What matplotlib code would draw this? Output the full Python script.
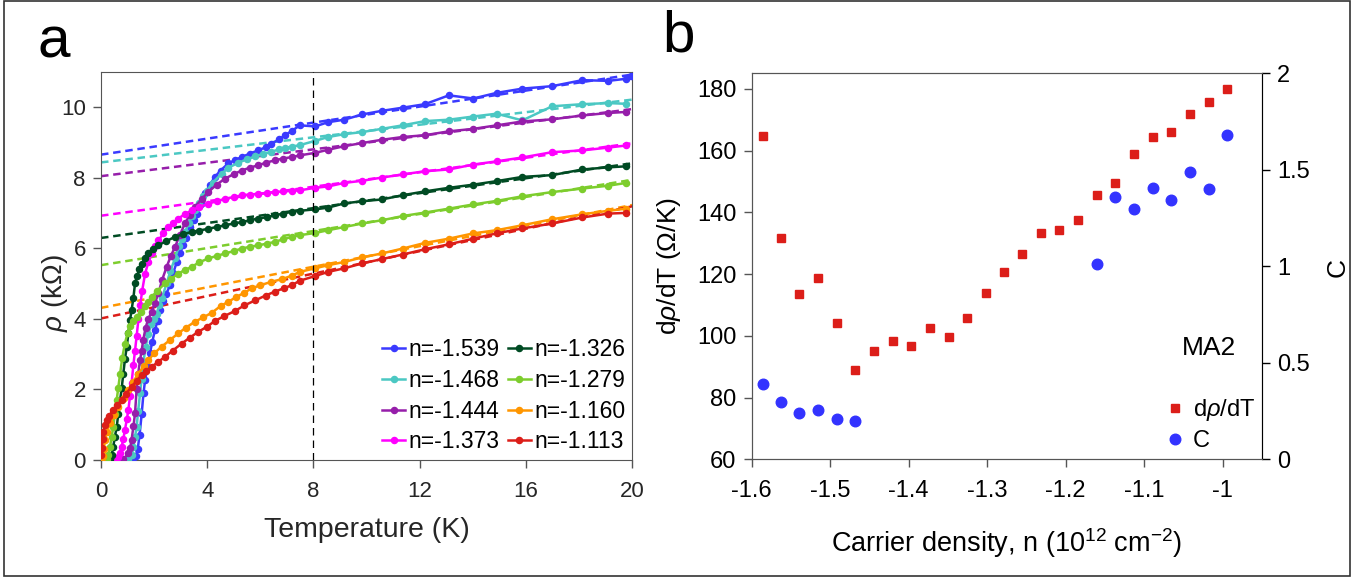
import matplotlib
matplotlib.use("Agg")
import matplotlib.pyplot as plt
from matplotlib.patches import Rectangle
import numpy as np

plt.rcParams['font.family'] = ['Liberation Sans', 'DejaVu Sans']
plt.rcParams['mathtext.fontset'] = 'custom'
plt.rcParams['mathtext.it'] = 'Liberation Sans:italic'
plt.rcParams['mathtext.rm'] = 'Liberation Sans'
plt.rcParams['axes.unicode_minus'] = False

# ---------------- panel a data: rho (kOhm) vs T (K) ----------------
labels_a = ['n=-1.539', 'n=-1.468', 'n=-1.444', 'n=-1.373',
            'n=-1.326', 'n=-1.279', 'n=-1.160', 'n=-1.113']
n_a = [-1.539, -1.468, -1.444, -1.373, -1.326, -1.279, -1.160, -1.113]
colors_a = ['#3A3AFF', '#4BC8C3', '#961EAA', '#FF00FF',
            '#004B23', '#7DCD2D', '#FF9600', '#DC1E19']
# intercepts of the linear fits (kOhm)
rho0_fit = [8.65, 8.43, 8.04, 6.92, 6.29, 5.52, 4.31, 4.01]

# common high-temperature points
T_hi = [7.49, 8.06, 8.56, 9.16, 9.84, 10.57, 11.36, 12.2, 13.1, 14.02,
        14.9, 15.87, 16.99, 18.13, 19.1, 19.79]

T_1 = [0.7, 0.9, 1.05, 1.2, 1.3, 1.38, 1.45, 1.53, 1.6, 1.66, 1.75, 1.84, 1.93,
       2.03, 2.13, 2.22, 2.35, 2.45, 2.6, 2.72, 2.85, 2.97, 3.1, 3.2, 3.35, 3.5,
       3.6, 3.75, 3.92, 4.1, 4.29, 4.5, 4.79, 5.05, 5.3, 5.6, 5.92, 6.2, 6.42,
       6.7, 6.93, 7.2]
rho_1 = [0.0, 0.01, 0.02, 0.05, 0.1, 0.3, 0.7, 1.3, 1.9, 2.26, 2.65, 3.02, 3.35,
         3.68, 3.95, 4.24, 4.5, 4.7, 4.95, 5.3, 5.6, 5.85, 6.1, 6.3, 6.6, 6.8,
         6.98, 7.25, 7.55, 7.8, 8.02, 8.2, 8.4, 8.5, 8.58, 8.68, 8.77, 8.86, 8.96,
         9.08, 9.2, 9.33]
rho_1_hi = [9.48, 9.45, 9.57, 9.64, 9.79, 9.89, 9.98, 10.08, 10.33, 10.24,
            10.40, 10.52, 10.59, 10.76, 10.74, 10.80]

T_2 = [0.8, 1.03, 1.15, 1.22, 1.28, 1.34, 1.4, 1.47, 1.53, 1.59, 1.68, 1.78,
       1.9, 2.0, 2.1, 2.2, 2.3, 2.47, 2.61, 2.79, 2.93, 3.05, 3.16, 3.3, 3.42,
       3.54, 3.7, 3.85, 3.98, 4.2, 4.54, 4.8, 5.17, 5.5, 5.8, 6.1, 6.42, 6.7,
       6.93, 7.2]
rho_2 = [0.0, 0.02, 0.15, 0.38, 0.65, 0.94, 1.4, 1.89, 2.3, 2.74, 3.2, 3.58,
         3.85, 4.0, 4.15, 4.4, 4.6, 5.0, 5.35, 5.72, 6.05, 6.25, 6.45, 6.7, 6.9,
         7.07, 7.28, 7.48, 7.62, 7.85, 8.11, 8.28, 8.42, 8.52, 8.6, 8.67, 8.73,
         8.8, 8.84, 8.88]
rho_2_hi = [8.92, 9.04, 9.15, 9.23, 9.29, 9.38, 9.48, 9.6, 9.64, 9.73, 9.81,
            9.62, 10.02, 10.08, 10.11, 10.09]

T_3 = [0.6, 0.84, 1.03, 1.1, 1.15, 1.22, 1.28, 1.34, 1.4, 1.47, 1.53, 1.59,
       1.68, 1.78, 1.91, 2.03, 2.16, 2.3, 2.47, 2.63, 2.79, 2.97, 3.16, 3.35,
       3.54, 3.8, 4.04, 4.35, 4.67, 5.0, 5.3, 5.6, 5.92, 6.2, 6.55, 6.85, 7.18]
rho_3 = [0.0, 0.02, 0.19, 0.35, 0.57, 0.95, 1.32, 2.0, 2.45, 2.83, 3.1, 3.4,
         3.75, 4.0, 4.2, 4.45, 4.72, 5.1, 5.47, 5.78, 6.04, 6.38, 6.7, 6.95,
         7.17, 7.4, 7.59, 7.8, 7.97, 8.1, 8.2, 8.28, 8.35, 8.42, 8.49, 8.54, 8.58]
rho_3_hi = [8.63, 8.7, 8.79, 8.89, 8.98, 9.07, 9.15, 9.2, 9.31, 9.38, 9.48,
            9.59, 9.65, 9.76, 9.83, 9.86]

T_4 = [0.4, 0.55, 0.65, 0.72, 0.78, 0.84, 0.9, 0.97, 1.03, 1.09, 1.15, 1.22,
       1.28, 1.34, 1.41, 1.48, 1.55, 1.66, 1.78, 1.91, 2.03, 2.16, 2.35, 2.54,
       2.72, 2.91, 3.15, 3.41, 3.7, 4.04, 4.35, 4.67, 5.0, 5.3, 5.6, 5.92, 6.25,
       6.55, 6.85, 7.18]
rho_4 = [0.0, 0.02, 0.09, 0.2, 0.38, 0.6, 0.85, 1.15, 1.42, 1.8, 2.17, 2.7,
         3.1, 3.5, 4.0, 4.4, 4.8, 5.28, 5.6, 5.85, 6.05, 6.22, 6.42, 6.6, 6.72,
         6.84, 6.96, 7.07, 7.17, 7.26, 7.33, 7.4, 7.45, 7.5, 7.52, 7.54, 7.57,
         7.59, 7.61, 7.62]
rho_4_hi = [7.64, 7.71, 7.75, 7.85, 7.91, 8.0, 8.09, 8.18, 8.23, 8.37, 8.46,
            8.57, 8.72, 8.77, 8.85, 8.91]

T_5 = [0.25, 0.34, 0.4, 0.46, 0.52, 0.59, 0.65, 0.72, 0.78, 0.84, 0.9, 0.97,
       1.03, 1.09, 1.15, 1.22, 1.28, 1.35, 1.44, 1.53, 1.66, 1.78, 1.97, 2.16,
       2.45, 2.79, 3.1, 3.41, 3.7, 4.04, 4.35, 4.67, 5.0, 5.3, 5.6, 5.92, 6.25,
       6.55, 6.85, 7.18]
rho_5 = [0.0, 0.02, 0.15, 0.38, 0.65, 0.94, 1.3, 1.7, 2.05, 2.45, 2.85, 3.21,
         3.6, 3.96, 4.24, 4.6, 5.0, 5.2, 5.4, 5.56, 5.72, 5.85, 5.98, 6.08, 6.2,
         6.32, 6.4, 6.46, 6.5, 6.55, 6.6, 6.65, 6.7, 6.74, 6.79, 6.84, 6.88,
         6.93, 6.98, 7.03]
rho_5_hi = [7.06, 7.1, 7.15, 7.27, 7.33, 7.38, 7.5, 7.61, 7.71, 7.8, 7.9, 8.02,
            8.07, 8.23, 8.29, 8.32]

T_6 = [0.15, 0.21, 0.28, 0.34, 0.4, 0.46, 0.52, 0.59, 0.65, 0.72, 0.8, 0.9,
       1.0, 1.09, 1.2, 1.34, 1.5, 1.66, 1.78, 1.91, 2.1, 2.41, 2.65, 2.91, 3.15,
       3.41, 3.7, 4.04, 4.35, 4.67, 5.0, 5.3, 5.6, 5.92, 6.25, 6.55, 6.85, 7.18]
rho_6 = [0.0, 0.02, 0.15, 0.38, 0.65, 0.94, 1.3, 1.7, 2.05, 2.45, 2.9, 3.3,
         3.6, 3.8, 3.95, 4.05, 4.2, 4.35, 4.48, 4.62, 4.78, 5.0, 5.14, 5.28,
         5.38, 5.47, 5.6, 5.71, 5.78, 5.85, 5.92, 5.99, 6.04, 6.08, 6.13, 6.18,
         6.25, 6.32]
rho_6_hi = [6.37, 6.43, 6.51, 6.6, 6.7, 6.79, 6.91, 7.01, 7.12, 7.24, 7.34,
            7.47, 7.59, 7.69, 7.77, 7.85]

T_7 = [0.03, 0.06, 0.1, 0.15, 0.22, 0.34, 0.5, 0.65, 0.85, 1.03, 1.2, 1.41,
       1.6, 1.78, 2.0, 2.28, 2.6, 2.91, 3.2, 3.54, 3.85, 4.17, 4.5, 4.79, 5.1,
       5.4, 5.67, 6.0, 6.42, 6.8, 7.18]
rho_7 = [0.05, 0.12, 0.3, 0.57, 0.8, 1.04, 1.28, 1.51, 1.75, 1.98, 2.2, 2.45,
         2.65, 2.83, 3.02, 3.21, 3.4, 3.59, 3.75, 3.92, 4.04, 4.17, 4.36, 4.48,
         4.62, 4.74, 4.86, 4.95, 5.05, 5.12, 5.22]
rho_7_hi = [5.33, 5.43, 5.52, 5.61, 5.74, 5.85, 5.99, 6.15, 6.27, 6.42, 6.51,
            6.65, 6.82, 6.96, 7.06, 7.12]

T_8 = [0.0, 0.03, 0.06, 0.09, 0.14, 0.21, 0.3, 0.46, 0.6, 0.78, 0.95, 1.15,
       1.35, 1.53, 1.7, 1.91, 2.15, 2.41, 2.7, 3.04, 3.35, 3.66, 4.0, 4.29,
       4.65, 5.04, 5.4, 5.8, 6.2, 6.55, 6.9, 7.18]
rho_8 = [0.14, 0.35, 0.6, 0.8, 1.0, 1.13, 1.25, 1.42, 1.55, 1.7, 1.88, 2.08,
         2.25, 2.41, 2.52, 2.64, 2.78, 2.92, 3.1, 3.3, 3.47, 3.63, 3.78, 3.94,
         4.08, 4.22, 4.38, 4.52, 4.66, 4.77, 4.87, 4.95]
rho_8_hi = [5.08, 5.21, 5.33, 5.43, 5.57, 5.69, 5.82, 5.97, 6.11, 6.27, 6.42,
            6.56, 6.7, 6.87, 6.98, 7.0]

T_low = [T_1, T_2, T_3, T_4, T_5, T_6, T_7, T_8]
rho_low = [rho_1, rho_2, rho_3, rho_4, rho_5, rho_6, rho_7, rho_8]
rho_high = [rho_1_hi, rho_2_hi, rho_3_hi, rho_4_hi,
            rho_5_hi, rho_6_hi, rho_7_hi, rho_8_hi]

# ---------------- panel b data ----------------
n_b = [-1.586, -1.562, -1.539, -1.515, -1.491, -1.468, -1.444, -1.420, -1.397,
       -1.373, -1.349, -1.326, -1.302, -1.279, -1.255, -1.231, -1.208, -1.184,
       -1.160, -1.137, -1.113, -1.089, -1.066, -1.042, -1.018, -0.995]
drho_dT = [164.8, 131.7, 113.4, 118.7, 104.1, 88.9, 95.0, 98.3, 96.8, 102.6,
           99.6, 105.7, 113.7, 120.8, 126.4, 133.4, 134.1, 137.5, 145.6, 149.6,
           158.8, 164.5, 165.9, 171.7, 175.7, 179.8]
n_C = [-1.586, -1.562, -1.539, -1.515, -1.491, -1.468,
       -1.160, -1.137, -1.113, -1.089, -1.066, -1.042, -1.018, -0.995]
C_vals = [0.388, 0.295, 0.238, 0.255, 0.207, 0.200,
          1.011, 1.361, 1.296, 1.406, 1.344, 1.487, 1.403, 1.682]

# ---------------- figure ----------------
fig = plt.figure(figsize=(13.69, 5.79), dpi=100)
fig.patches.append(Rectangle((4 / 1369, 3 / 579), 1346 / 1369, 575 / 579,
                             transform=fig.transFigure, fill=False,
                             edgecolor='#333333', lw=1.2))

gray = '#262626'
spine_c = '#555555'

# panel a
ax = fig.add_axes([0.0738, 0.2055, 0.3879, 0.6707])
Tfit = np.array([0, 20])
for i in range(8):
    k = int(np.argmin(np.abs(np.array(n_b) - n_a[i])))
    slope = drho_dT[k] / 1000.0
    ax.plot(Tfit, rho0_fit[i] + slope * Tfit, color=colors_a[i], lw=1.8,
            dashes=(3.0, 1.9), zorder=2)
for i in range(8):
    T = list(T_low[i]) + T_hi
    r = list(rho_low[i]) + rho_high[i]
    if i == 0:
        T = T + [19.97]
        r = r + [10.88]
    ax.plot(T, r, color=colors_a[i], lw=1.8, marker='o', ms=4.4,
            label=labels_a[i], zorder=3)
ax.axvline(8, color='black', lw=0.9, dashes=(6, 4), zorder=4)
ax.set_xlim(0, 20)
ax.set_ylim(0, 11)
ax.set_xticks([0, 4, 8, 12, 16, 20])
ax.set_yticks([0, 2, 4, 6, 8, 10])
ax.tick_params(direction='out', length=6, width=1, colors=spine_c,
               labelcolor=gray, labelsize=16)
ax.tick_params(axis='x', pad=9)
ax.tick_params(axis='y', pad=5)
for s in ax.spines.values():
    s.set_color(spine_c)
ax.set_xlabel('Temperature (K)', fontsize=20.5, color=gray, labelpad=11)
ax.set_ylabel('$\\rho$ (kΩ)', fontsize=20, color=gray)
ax.yaxis.set_label_coords(-0.058, 0.43)
leg = ax.legend(ncol=2, loc='lower right', frameon=False, fontsize=16.5,
                handlelength=1.0, handletextpad=0.15, columnspacing=0.35,
                labelspacing=0.33, borderaxespad=0.0, borderpad=0.3)
for t in leg.get_texts():
    t.set_color('black')

# panel b
bx = fig.add_axes([0.549, 0.2067, 0.3728, 0.6667])
bx.plot(n_b, drho_dT, linestyle='none', marker='s', ms=6.4,
        color='#DC1E19', label='d$\\rho$/dT', zorder=3)
bx.set_xlim(-1.6, -0.95)
bx.set_ylim(60, 185)
bx.set_xticks([-1.6, -1.5, -1.4, -1.3, -1.2, -1.1, -1.0])
bx.set_xticklabels(['-1.6', '-1.5', '-1.4', '-1.3', '-1.2', '-1.1', '-1'])
bx.set_yticks([60, 80, 100, 120, 140, 160, 180])
bx.tick_params(direction='out', length=6, width=1, colors=spine_c,
               labelcolor='black', labelsize=17)
bx.tick_params(axis='x', pad=9)
bx.tick_params(axis='y', pad=5)
for s in bx.spines.values():
    s.set_color(spine_c)
bx.set_xlabel('Carrier density, n (10$^{12}$ cm$^{-2}$)', fontsize=19.5,
              labelpad=17)
bx.set_ylabel('d$\\rho$/dT ($\\Omega$/K)', fontsize=19, labelpad=10)

cx = bx.twinx()
cx.plot(n_C, C_vals, linestyle='none', marker='o', ms=7.6,
        color='#3333FF', label='C', zorder=3)
cx.set_ylim(0, 2)
cx.set_yticks([0, 0.5, 1, 1.5, 2])
cx.set_yticklabels(['0', '0.5', '1', '1.5', '2'])
cx.tick_params(direction='out', length=6, width=1, colors='black',
               labelcolor='black', labelsize=17, pad=5)
cx.spines['right'].set_color('black')
for name in ['left', 'top', 'bottom']:
    cx.spines[name].set_color(spine_c)
fig.text(1338 / 1369, 1 - 268 / 579, 'C', fontsize=19, rotation=90,
         ha='center', va='center')

bx.text(-1.018, 96, 'MA2', fontsize=19, ha='center', va='center')
h1, l1 = bx.get_legend_handles_labels()
h2, l2 = cx.get_legend_handles_labels()
cx.legend(h1 + h2, l1 + l2, loc='lower right', frameon=False, fontsize=17,
          handlelength=0.8, handletextpad=0.35, labelspacing=0.3,
          borderaxespad=0.0, borderpad=0.3)

fig.text(37 / 1369, 1 - 57 / 579, 'a', fontsize=42, color='black')
fig.text(662 / 1369, 1 - 51 / 579, 'b', fontsize=42, color='black')

fig.savefig('out.png', dpi=100)
